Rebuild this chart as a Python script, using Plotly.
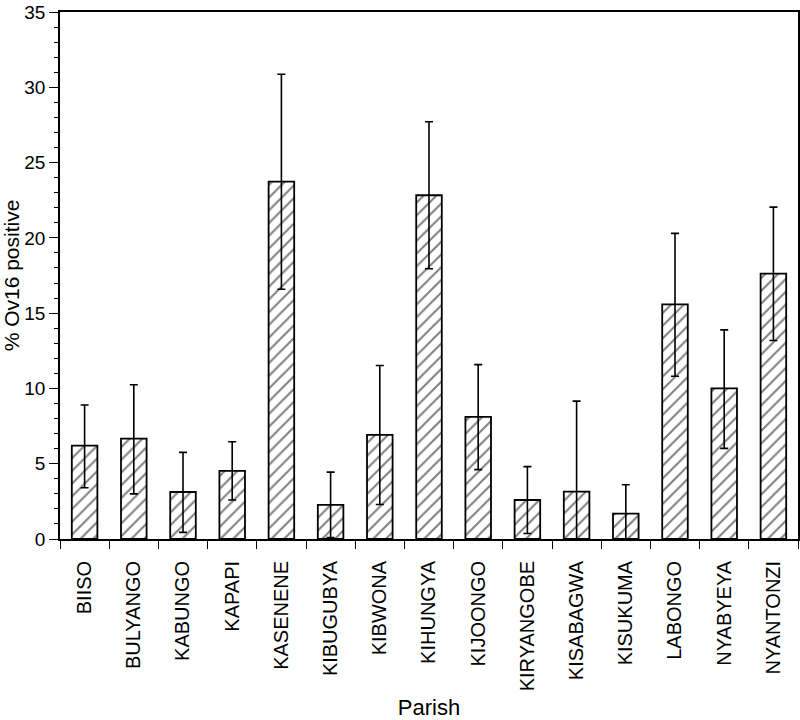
import plotly.graph_objects as go

parishes = ["BIISO", "BULYANGO", "KABUNGO", "KAPAPI", "KASENENE", "KIBUGUBYA",
            "KIBWONA", "KIHUNGYA", "KIJOONGO", "KIRYANGOBE", "KISABAGWA",
            "KISUKUMA", "LABONGO", "NYABYEYA", "NYANTONZI"]
pct_positive = [6.2, 6.66, 3.12, 4.53, 23.73, 2.26, 6.92, 22.83, 8.11, 2.59,
                3.14, 1.69, 15.58, 10.0, 17.62]
ci_upper = [8.9, 10.24, 5.75, 6.46, 30.87, 4.44, 11.52, 27.71, 11.58, 4.81,
            9.16, 3.6, 20.3, 13.89, 22.04]
ci_lower = [3.4, 3.0, 0.44, 2.59, 16.59, 0.09, 2.29, 17.95, 4.61, 0.37,
            0.0, 0.0, 10.81, 6.02, 13.18]
y_ticks = [0, 5, 10, 15, 20, 25, 30, 35]

err_plus = [u - v for u, v in zip(ci_upper, pct_positive)]
err_minus = [v - l for v, l in zip(pct_positive, ci_lower)]

FONT = "Liberation Sans, Arial, sans-serif"

fig = go.Figure(go.Bar(
    x=parishes,
    y=pct_positive,
    marker=dict(
        color="white",
        line=dict(color="black", width=1.8),
        pattern=dict(shape="/", fgcolor="black", bgcolor="white", size=9, solidity=0.22),
    ),
    error_y=dict(type="data", array=err_plus, arrayminus=err_minus,
                 color="black", thickness=1.6, width=4),
    width=0.52,
))

fig.update_layout(
    width=800, height=720,
    margin=dict(l=60, r=2, t=12, b=181),
    plot_bgcolor="white", paper_bgcolor="white",
    showlegend=False,
    font=dict(family=FONT, color="black"),
)
fig.update_xaxes(
    automargin=False,
    showline=True, linecolor="black", linewidth=1.8, mirror=True,
    ticks="outside", tickson="boundaries", ticklen=8, tickcolor="black",
    tickangle=-90, tickfont=dict(size=20, family=FONT, color="black"),
    ticklabelstandoff=12,
    title=dict(text="Parish", font=dict(size=22, family=FONT), standoff=22),
    showgrid=False,
)
fig.update_yaxes(
    automargin=False,
    range=[0, 35], tickmode="array", tickvals=y_ticks,
    ticktext=[str(t) for t in y_ticks],
    ticklabeloverflow="allow",
    showline=True, linecolor="black", linewidth=1.8, mirror=True,
    ticks="outside", ticklen=9, tickcolor="black",
    minor=dict(dtick=1, tick0=0, ticks="outside", ticklen=4, tickcolor="black", showgrid=False),
    tickfont=dict(size=19, family=FONT, color="black"),
    title=dict(text="% Ov16 positive", font=dict(size=21, family=FONT), standoff=7),
    showgrid=False, zeroline=False,
)

fig.write_html(
    "out.html",
    config={"displayModeBar": False},
    post_script="document.body.style.margin='0px';document.body.style.overflow='hidden';",
)
